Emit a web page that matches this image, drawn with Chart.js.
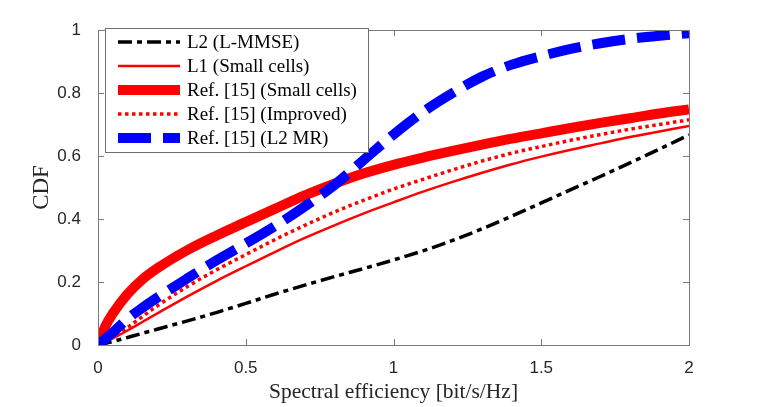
<!DOCTYPE html>
<html>
<head>
<meta charset="utf-8">
<script src="https://cdn.jsdelivr.net/npm/chart.js@4"></script>
<style>
  body { margin: 0; background: #fff; }
</style>
</head>
<body>
<canvas id="myChart" width="763" height="407"></canvas>
<script>
// spectral efficiency sample points (bit/s/Hz)
const xs = [0, 0.025, 0.05, 0.1, 0.15, 0.2, 0.3, 0.4, 0.5, 0.6, 0.7, 0.8, 0.9, 1.0,
            1.1, 1.2, 1.3, 1.4, 1.5, 1.6, 1.7, 1.8, 1.9, 2.0];

const l2Mmse = [0, 0.005, 0.011, 0.024, 0.037, 0.05, 0.076, 0.103, 0.132, 0.162, 0.19, 0.217, 0.243, 0.27,
                0.299, 0.332, 0.369, 0.409, 0.451, 0.493, 0.535, 0.578, 0.622, 0.667];
const l1Small = [0, 0.01, 0.021, 0.046, 0.073, 0.1, 0.153, 0.203, 0.25, 0.296, 0.34, 0.38, 0.418, 0.453,
                 0.487, 0.518, 0.547, 0.574, 0.598, 0.62, 0.64, 0.66, 0.678, 0.695];
const refSmall = [0, 0.06, 0.1, 0.162, 0.208, 0.243, 0.3, 0.347, 0.39, 0.433, 0.475, 0.512, 0.545, 0.572,
                  0.595, 0.616, 0.636, 0.655, 0.672, 0.689, 0.705, 0.72, 0.735, 0.748];
const refImproved = [0, 0.012, 0.026, 0.056, 0.09, 0.124, 0.184, 0.238, 0.287, 0.335, 0.38, 0.422, 0.46, 0.495,
                     0.526, 0.556, 0.584, 0.609, 0.63, 0.65, 0.668, 0.685, 0.7, 0.715];
const refL2Mr = [0, 0.02, 0.04, 0.083, 0.118, 0.15, 0.21, 0.268, 0.322, 0.378, 0.44, 0.508, 0.588, 0.668,
                 0.74, 0.8, 0.852, 0.89, 0.917, 0.94, 0.958, 0.972, 0.982, 0.99];

const seriesNames = ['L2 (L-MMSE)', 'L1 (Small cells)', 'Ref. [15] (Small cells)',
                     'Ref. [15] (Improved)', 'Ref. [15] (L2 MR)'];
const xTicks = [0, 0.5, 1, 1.5, 2];
const yTicks = [0, 0.2, 0.4, 0.6, 0.8, 1];

const pts = arr => arr.map((v, i) => ({ x: xs[i], y: v }));

const styles = [
  { borderColor: '#000000', borderWidth: 3.5, borderDash: [14, 5, 5, 5] },
  { borderColor: '#ff0000', borderWidth: 2.5, borderDash: [] },
  { borderColor: '#ff0000', borderWidth: 10, borderDash: [] },
  { borderColor: '#ff0000', borderWidth: 3.5, borderDash: [3.5, 3.5] },
  { borderColor: '#0000ff', borderWidth: 10, borderDash: [33, 12] }
];
const seriesData = [l2Mmse, l1Small, refSmall, refImproved, refL2Mr];

const datasets = seriesData.map((d, i) => ({
  label: seriesNames[i],
  data: pts(d),
  borderColor: styles[i].borderColor,
  borderWidth: styles[i].borderWidth,
  borderDash: styles[i].borderDash,
  borderCapStyle: 'butt',
  pointRadius: 0,
  fill: false,
  cubicInterpolationMode: 'monotone',
  order: 5 - i
}));

// axis box with inward ticks, matlab style
const boxPlugin = {
  id: 'box',
  afterDatasetsDraw(chart) {
    const { ctx, chartArea: a, scales } = chart;
    ctx.save();
    ctx.strokeStyle = '#7a7a7a';
    ctx.lineWidth = 1;
    ctx.strokeRect(a.left + 0.5, a.top + 0.5, a.right - a.left, a.bottom - a.top);
    ctx.beginPath();
    xTicks.forEach(t => {
      const px = Math.round(scales.x.getPixelForValue(t)) + 0.5;
      ctx.moveTo(px, a.bottom); ctx.lineTo(px, a.bottom - 6);
      ctx.moveTo(px, a.top); ctx.lineTo(px, a.top + 6);
    });
    yTicks.forEach(t => {
      const py = Math.round(scales.y.getPixelForValue(t)) + 0.5;
      ctx.moveTo(a.left, py); ctx.lineTo(a.left + 6, py);
      ctx.moveTo(a.right, py); ctx.lineTo(a.right - 6, py);
    });
    ctx.stroke();
    ctx.restore();
  },
  afterDraw(chart) {
    // legend box in upper left
    const ctx = chart.ctx;
    const bx = 105, by = 28, bw = 263, bh = 124;
    ctx.save();
    ctx.fillStyle = '#fff';
    ctx.fillRect(bx, by, bw, bh);
    ctx.strokeStyle = '#6e6e6e';
    ctx.lineWidth = 1;
    ctx.strokeRect(bx + 0.5, by + 0.5, bw, bh);
    ctx.font = '19px "Liberation Serif"';
    ctx.textBaseline = 'middle';
    ctx.fillStyle = '#000';
    chart.data.datasets.forEach((ds, i) => {
      const y = 42 + i * 24;
      ctx.beginPath();
      ctx.strokeStyle = ds.borderColor;
      ctx.lineWidth = ds.borderWidth;
      ctx.setLineDash(ds.borderDash);
      ctx.lineCap = 'butt';
      ctx.moveTo(118, y);
      ctx.lineTo(180, y);
      ctx.stroke();
      ctx.setLineDash([]);
      ctx.fillText(ds.label, 187, y + 1);
    });
    ctx.restore();
  }
};

const ctx = document.getElementById('myChart').getContext('2d');

const config = {
  type: 'line',
  data: { datasets: datasets },
  options: {
    responsive: false,
    animation: false,
    layout: { padding: { top: 30, right: 74, left: 0, bottom: 0 } },
    plugins: { legend: { display: false }, tooltip: { enabled: false } },
    scales: {
      x: {
        type: 'linear',
        min: 0, max: 2,
        afterFit: s => { s.height = 62; },
        afterBuildTicks: s => { s.ticks = xTicks.map(v => ({ value: v })); },
        grid: { display: false },
        border: { display: false },
        ticks: {
          color: '#262626',
          font: { family: '"Liberation Sans"', size: 17 },
          padding: 5,
          maxRotation: 0,
          callback: v => String(v)
        },
        title: {
          display: true,
          text: 'Spectral efficiency [bit/s/Hz]',
          color: '#262626',
          font: { family: '"Liberation Serif"', size: 21.5 },
          padding: { top: 0, bottom: 2 }
        }
      },
      y: {
        min: 0, max: 1,
        afterFit: s => { s.width = 98; },
        afterBuildTicks: s => { s.ticks = yTicks.map(v => ({ value: v })); },
        grid: { display: false },
        border: { display: false },
        ticks: {
          color: '#262626',
          font: { family: '"Liberation Sans"', size: 17 },
          padding: 9,
          callback: v => String(v)
        },
        title: {
          display: true,
          text: 'CDF',
          color: '#262626',
          font: { family: '"Liberation Serif"', size: 23 },
          padding: { top: 28, bottom: 0 }
        }
      }
    }
  },
  plugins: [boxPlugin]
};

const myChart = new Chart(ctx, config);
</script>
</body>
</html>
